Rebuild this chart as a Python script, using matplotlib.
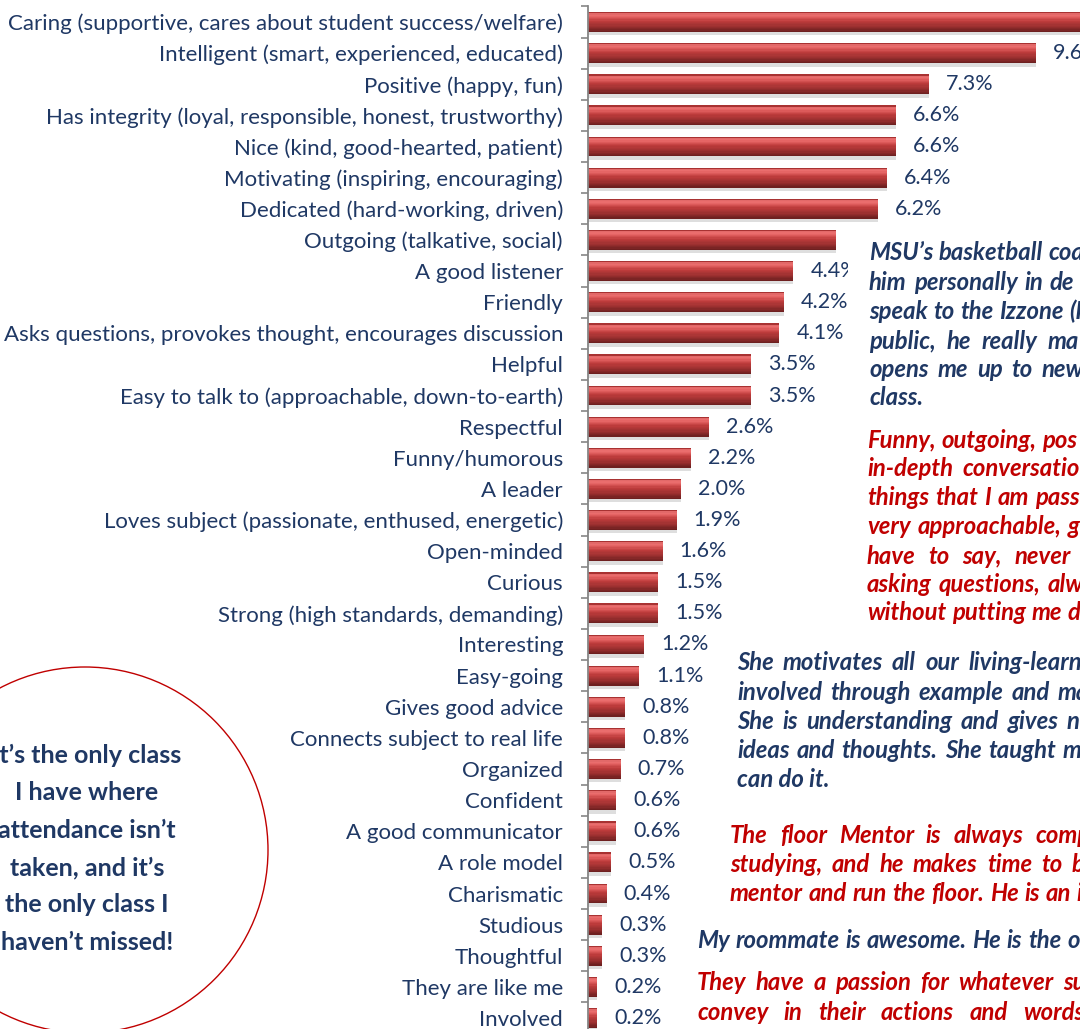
import matplotlib
matplotlib.use('Agg')
import matplotlib.pyplot as plt
import numpy as np
from matplotlib.colors import LinearSegmentedColormap
from matplotlib.patches import Ellipse, Rectangle
from matplotlib.font_manager import FontProperties

# ---------------- data ----------------
categories = [
    "Caring (supportive, cares about student success/welfare)",
    "Intelligent (smart, experienced, educated)",
    "Positive (happy, fun)",
    "Has integrity (loyal, responsible, honest, trustworthy)",
    "Nice (kind, good-hearted, patient)",
    "Motivating (inspiring, encouraging)",
    "Dedicated (hard-working, driven)",
    "Outgoing (talkative, social)",
    "A good listener",
    "Friendly",
    "Asks questions, provokes thought, encourages discussion",
    "Helpful",
    "Easy to talk to (approachable, down-to-earth)",
    "Respectful",
    "Funny/humorous",
    "A leader",
    "Loves subject (passionate, enthused, energetic)",
    "Open-minded",
    "Curious",
    "Strong (high standards, demanding)",
    "Interesting",
    "Easy-going",
    "Gives good advice",
    "Connects subject to real life",
    "Organized",
    "Confident",
    "A good communicator",
    "A role model",
    "Charismatic",
    "Studious",
    "Thoughtful",
    "They are like me",
    "Involved",
]
values = [11.6, 9.6, 7.3, 6.6, 6.6, 6.4, 6.2, 5.3, 4.4, 4.2, 4.1, 3.5, 3.5,
          2.6, 2.2, 2.0, 1.9, 1.6, 1.5, 1.5, 1.2, 1.1, 0.8, 0.8, 0.7, 0.6,
          0.6, 0.5, 0.4, 0.3, 0.3, 0.2, 0.2]
# the "Outgoing" label sits under the quote box in the reference, so it is not shown
hidden_labels = ["Outgoing (talkative, social)"]
value_labels = ["" if c in hidden_labels else f"{v:.1f}%" for c, v in zip(categories, values)]

circle_quote = ["It\u2019s the only class", "I have where", "attendance isn\u2019t",
                "taken, and it\u2019s", "the only class I", "haven\u2019t missed!"]

quote1 = ["MSU\u2019s basketball coa", "him personally in de", "speak to the Izzone (I",
          "public, he really ma", "opens me up to new", "class."]
quote2 = ["Funny, outgoing, pos", "in-depth conversatio", "things that I am pass",
          "very approachable, g", "have to say, never", "asking questions, alw",
          "without putting me de"]
quote3 = ["She motivates all our living-learn", "involved through example and ma",
          "She is understanding and gives n", "ideas and thoughts.  She taught m",
          "can do it."]
quote4 = ["The floor Mentor is always comp", "studying, and he makes time to b",
          "mentor and run the floor. He is an i"]
quote5 = ["My roommate is awesome. He is the o"]
quote6 = ["They have a passion for whatever su", "convey in their actions and words"]

# ---------------- style ----------------
W, H = 1080, 1029
NAVY = '#1F3864'
RED = '#C00000'
FONT = 'Lato'

fig = plt.figure(figsize=(W / 100, H / 100), dpi=100)
fig.patch.set_facecolor('white')
renderer = fig.canvas.get_renderer()


def text_width(s, fp):
    t = fig.text(0, 0, s, fontproperties=fp)
    w = t.get_window_extent(renderer).width
    t.remove()
    return w


def fit_size(s, target_px, weight='normal', style='normal'):
    fp = FontProperties(family=FONT, weight=weight, style=style, size=20)
    w = text_width(s, fp)
    return 20 * target_px / w


cat_fs = fit_size(categories[0], 555)
val_fs = fit_size("7.3%", 47)
q_fs = fit_size("can do it.", 92.5, 'bold', 'italic')
c_fs = fit_size("I have where", 143, 'bold')

# ---------------- bars ----------------
n = len(categories)
ys = np.arange(n)
row_px = (1018 - 22) / (n - 1)
top_px = 22 - row_px / 2
bot_px = 1018 + row_px / 2
ax_left = 588
px_per_pct = 46.7
ax = fig.add_axes([ax_left / W, (H - bot_px) / H, (W - ax_left) / W, (bot_px - top_px) / H])
ax.set_xlim(0, (W - ax_left) / px_per_pct)
ax.set_ylim(n - 0.5, -0.5)

cmap = LinearSegmentedColormap.from_list('bar', [
    (0.0, '#A83232'), (0.08, '#EE7474'), (0.22, '#E46262'),
    (0.45, '#BE3C3C'), (0.75, '#9A2F2F'), (1.0, '#6E2020')])
bh = 0.64
ns = 16
# soft shadow under each bar
ax.barh(ys + bh / 2 + 0.05, values, height=0.12, color='#7F7F7F', alpha=0.25, linewidth=0)
for s in range(ns):
    off = -bh / 2 + (s + 0.5) * bh / ns
    ax.barh(ys + off, values, height=bh / ns * 1.02, color=cmap(s / (ns - 1)), linewidth=0)

for i, (v, lab) in enumerate(zip(values, value_labels)):
    if not lab:
        continue
    ax.annotate(lab, xy=(v, i), xytext=(17, 0), textcoords='offset pixels',
                ha='left', va='center', fontsize=val_fs, family=FONT, color=NAVY,
                annotation_clip=False)

for sp in ['top', 'right', 'bottom']:
    ax.spines[sp].set_visible(False)
ax.spines['left'].set_color('#868686')
ax.spines['left'].set_linewidth(1.3)
ax.set_xticks([])
ax.set_yticks(ys)
ax.set_yticklabels(categories, fontsize=cat_fs, family=FONT, color=NAVY)
ax.set_yticks(np.arange(-0.5, n, 1.0), minor=True)
ax.tick_params(axis='y', which='major', length=0, pad=18)
ax.tick_params(axis='y', which='minor', length=5, width=1.2, color='#868686')
ax.set_facecolor('none')

# ---------------- circle callout ----------------
circ = Ellipse((85 / W, 1 - 850 / H), 2 * 183 / W, 2 * 183 / H,
               transform=fig.transFigure, facecolor='none',
               edgecolor='#C00000', linewidth=1.0, zorder=4)
fig.patches.append(circ)
for k, line in enumerate(circle_quote):
    yb = 755 + k * 37.5
    fig.text(87 / W, 1 - yb / H, line, ha='center', va='center', fontsize=c_fs,
             family=FONT, weight='bold', color=NAVY, zorder=6)

# ---------------- quotes ----------------
# white text box of the first two quotes
fig.patches.append(Rectangle((848 / W, 1 - 630 / H), (W - 848) / W, (630 - 226) / H,
                             transform=fig.transFigure, facecolor='white',
                             edgecolor='none', zorder=5))
qfp = FontProperties(family=FONT, weight='bold', style='italic', size=q_fs)


def draw_line(x0, yc, text, color, x_last=None):
    yb = yc + 7
    words = text.split()
    if x_last is None or len(words) == 1:
        fig.text(x0 / W, 1 - yb / H, text, fontproperties=qfp, color=color,
                 ha='left', va='baseline', zorder=6)
        return
    widths = [text_width(w, qfp) for w in words[:-1]]
    gap = max((x_last - x0 - sum(widths)) / (len(words) - 1), text_width('a', qfp) * 0.45)
    x = x0
    for w, wd in zip(words, widths + [0]):
        fig.text(x / W, 1 - yb / H, w, fontproperties=qfp, color=color,
                 ha='left', va='baseline', zorder=6)
        x += wd + gap


blocks = [
    (quote1, NAVY, 869, [253, 283, 312, 342, 370, 398], [1047, 1050, 1061, 1048, 1042, None]),
    (quote2, RED, 867, [441, 469, 498, 527, 557, 585, 613], [1037, 962, 1035, 1068, 1015, 1048, 1067]),
    (quote3, NAVY, 737, [663, 693, 722, 751, 780], [968, 1058, 1067, 1063, None]),
    (quote4, RED, 730, [836, 865, 894], [1035, 1072, 1073]),
    (quote5, NAVY, 697, [941], [1067]),
    (quote6, RED, 697, [983, 1013], [1063, 1023]),
]
for lines, col, x0, ycs, lasts in blocks:
    for line, yc, xl in zip(lines, ycs, lasts):
        draw_line(x0, yc, line, col, xl)

fig.savefig('out.png', dpi=100, facecolor='white')
